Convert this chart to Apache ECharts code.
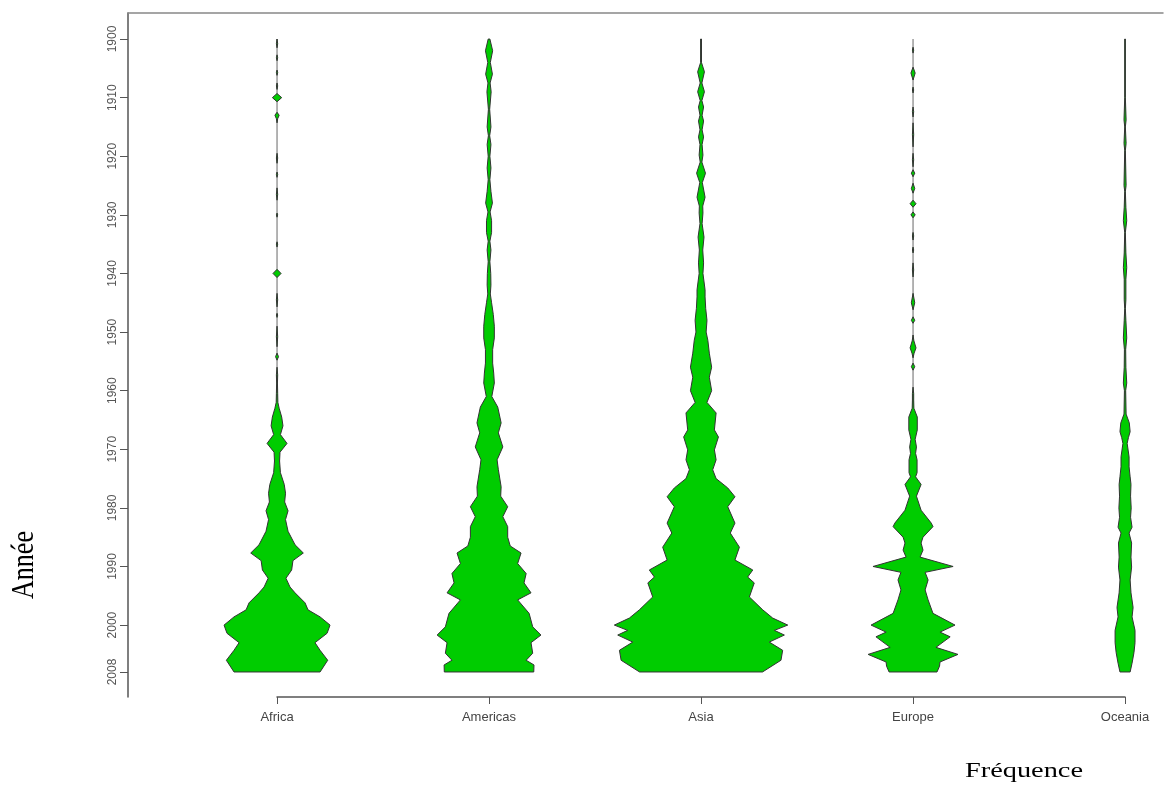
<!DOCTYPE html>
<html>
<head>
<meta charset="utf-8">
<script src="https://cdn.jsdelivr.net/npm/echarts@6/dist/echarts.min.js"></script>
<style>
  html, body { margin: 0; padding: 0; background: #fff; }
  #main { width: 1165px; height: 788px; }
</style>
</head>
<body>
<div id="main"></div>
<script>
// categories and tick labels
let continents = ['Africa', 'Americas', 'Asia', 'Europe', 'Oceania'];
let tickYears = [1900, 1910, 1920, 1930, 1940, 1950, 1960, 1970, 1980, 1990, 2000, 2008];

// [year, half width of the bean, in % of one category step]
let africa = [[1900,0],[1900.8,0.3],[1901.5,0],[1902.7,0],[1903.2,0.3],[1903.7,0],[1905.3,0],[1905.7,0.3],[1906.2,0],
  [1907.5,0],[1908,0.3],[1908.6,0],[1909.3,0],[1910,2.2],[1910.7,0],[1912.5,0],[1913,1.0],[1913.6,0.3],[1914.3,0],
  [1919.5,0],[1920.3,0.3],[1921.2,0],[1922.7,0],[1923.1,0.3],[1923.6,0],[1925.4,0],[1926.5,0.3],[1927.5,0],
  [1929.7,0],[1930,0.3],[1930.4,0],[1934.6,0],[1935,0.3],[1935.5,0],[1939.3,0],[1940,1.9],[1940.7,0],
  [1943.4,0],[1944.5,0.3],[1945.7,0],[1946.8,0],[1947.1,0.3],[1947.5,0],[1949,0],[1950.8,0.3],[1952.5,0],
  [1953.6,0],[1954.2,0.7],[1954.8,0],[1956,0],[1957.3,0.3],[1958.7,0.2],[1960.5,0.3],[1962,0.4],[1963,1.0],
  [1964.5,2.2],[1966,2.8],[1967.5,1.6],[1969,4.7],[1970.5,1.4],[1972,1.2],[1974,1.6],[1976,3.4],[1977.5,4.0],
  [1979,3.6],[1980.5,5.2],[1982,4.0],[1984,5.2],[1986.3,8.5],[1987.7,12.4],[1989,7.5],[1990.6,6.9],[1992,4.2],
  [1993.5,6.1],[1994.5,8.5],[1996.2,13.2],[1997.4,14.6],[1998.6,20.3],[2000,25],[2001.4,23.6],[2003,17.9],
  [2004.3,20.3],[2006,23.9],[2008,20.3]];

let americas = [[1900,0.4],[1902,1.7],[1904,0.6],[1906,1.6],[1907.5,0.5],[1909,1.0],[1912,0.3],[1915,0.9],[1916.5,0.3],
  [1918,0.9],[1920,0.4],[1922,0.9],[1924,0.4],[1926,0.9],[1928,1.6],[1929.5,0.5],[1931,1.2],[1933,1.2],[1934.5,0.4],
  [1936,0.9],[1938,0.4],[1940,0.8],[1942,0.9],[1943.5,0.6],[1945,1.2],[1947,2.0],[1949,2.5],[1951,2.5],[1953,1.7],
  [1955.3,1.7],[1957,2.2],[1958.7,2.5],[1961,1.3],[1962.8,4.1],[1965.5,5.7],[1967.2,4.4],[1969.6,6.5],[1971.8,3.8],
  [1973.5,4.4],[1976.4,5.7],[1978,5.5],[1979.8,8.8],[1981.5,6.5],[1983.2,8.8],[1985,8.8],[1986.5,10],[1987.7,15.1],
  [1989.5,13.5],[1991.2,17.5],[1992.8,16.5],[1994.5,19.8],[1995.7,13.5],[1998,18.9],[2000.3,20.6],[2001.7,24.5],
  [2003,19.8],[2004.8,20.6],[2006,17.5],[2006.8,21.2],[2008,21.1]];

let asia = [[1900,0.2],[1904,0.2],[1905.6,1.6],[1907.5,0.4],[1909,1.6],[1910.5,0.4],[1911.6,1.2],[1913,0.5],[1914,1.2],
  [1915.5,0.5],[1916.7,1.2],[1918,0.5],[1919.8,0.9],[1921,0.4],[1922.9,2.1],[1924.5,0.6],[1927,1.9],[1928.5,0.8],
  [1929.7,0.9],[1931.5,0.5],[1933.8,1.4],[1936,0.8],[1938.2,1.2],[1940,0.9],[1942.8,1.9],[1944,1.9],[1946,2.2],
  [1948,2.8],[1950,2.4],[1951.4,3.2],[1953.6,3.9],[1956,5.0],[1957.7,3.9],[1960,5.0],[1962,2.8],[1963.8,7.1],
  [1966.7,6.3],[1967.9,8.2],[1970.1,6.3],[1971.8,7.1],[1973.5,5.5],[1975,7.1],[1976.6,12.6],[1978.1,16],[1979.8,12.6],
  [1982.6,16],[1984.3,13.8],[1986.7,18.1],[1988.9,16],[1990.6,24.4],[1991.8,22],[1992.8,25.1],[1995.2,22.8],
  [1997.4,29.1],[1998.8,33.8],[2000,40.9],[2000.9,34.6],[2001.7,39.3],[2002.9,32.2],[2004.3,38.5],[2006,37.7],[2008,29]];

let europe = [[1900,0],[1901.4,0],[1901.9,0.3],[1902.4,0],[1904.8,0],[1905.8,1.0],[1907,0],[1908.2,0],[1908.7,0.3],
  [1909.2,0],[1911.6,0],[1912.4,0.3],[1913.3,0],[1914.3,0],[1916.3,0.3],[1918.4,0],[1919.5,0],[1920.6,0.3],[1921.8,0],
  [1922.3,0],[1922.9,0.8],[1923.5,0],[1924.6,0],[1925.5,0.8],[1926.3,0],[1927.5,0],[1928.1,1.4],[1928.7,0],[1929.5,0],
  [1930,1.0],[1930.5,0],[1933,0],[1933.6,0.3],[1934.3,0],[1935.5,0],[1936,0.3],[1936.5,0],[1938.2,0],[1939.4,0.3],
  [1940.6,0],[1943.4,0],[1945,0.8],[1946.2,0],[1947.4,0],[1948,0.8],[1948.5,0],[1950.5,0],[1951.5,0.4],[1952.7,1.4],
  [1953.6,0.5],[1954.4,0],[1955.3,0],[1955.9,0.8],[1956.5,0],[1959.4,0],[1960.5,0.3],[1961.6,0.3],[1963,0.4],
  [1964.5,2.0],[1966.7,2.0],[1968.3,1.0],[1969.6,1.6],[1970.7,1.2],[1971.8,1.9],[1974,1.9],[1974.7,1.2],[1976,3.8],
  [1978,1.6],[1980.4,3.8],[1982.6,8.6],[1983.2,9.4],[1985,4.7],[1986,3.8],[1987.2,4.7],[1988.4,3.3],[1990,18.9],
  [1991,5.7],[1992.3,7.1],[1994,5.7],[1995.7,7.1],[1998,9.4],[2000,19.8],[2001.2,12.7],[2002,17.5],[2003.8,10.8],
  [2005,21.2],[2006.3,12.7],[2007,12.5],[2008,11.3]];

let oceania = [[1900,0.15],[1910,0.15],[1913.8,0.5],[1915,0.15],[1917.8,0.5],[1919,0.15],[1925,0.5],[1926,0.15],
  [1928.7,0.4],[1931,0.8],[1933,0.15],[1936.5,0.4],[1939,0.8],[1941,0.4],[1944.5,0.4],[1946,0.15],[1948,0.4],
  [1951,0.8],[1953,0.3],[1956,0.4],[1958.7,0.8],[1960,0.3],[1964,0.5],[1965.5,2.0],[1967,2.4],[1968,1.6],[1969,1.0],
  [1971.3,1.9],[1973,1.9],[1974.7,2.4],[1976,2.8],[1978,2.6],[1980,2.9],[1981.6,2.6],[1983.3,3.3],[1984.3,1.9],
  [1986,3.1],[1988.4,2.8],[1990.1,3.1],[1992.3,2.4],[1994.5,2.8],[1997,3.8],[1998.6,3.3],[2000.9,4.7],[2003,4.7],
  [2004.7,4.2],[2006.5,3.3],[2008,2.4]];

let profiles = [africa, americas, asia, europe, oceania];

let myChart = echarts.init(document.getElementById('main'));

function renderBean(params, api) {
  let c = api.value(0);
  let prof = profiles[params.dataIndex];
  let top = api.coord([c, 1900]);
  let bot = api.coord([c, 2008]);
  let children = [{
    type: 'line',
    shape: { x1: top[0], y1: top[1], x2: bot[0], y2: bot[1] },
    style: { stroke: '#9a9a9a', lineWidth: 1.5 }
  }];
  // cut the profile where width is 0 so the bare centre line shows
  let runs = [], cur = null;
  for (let k = 0; k < prof.length; k++) {
    let p = prof[k];
    if (p[1] > 0) {
      if (!cur) { cur = []; if (k > 0) cur.push(prof[k - 1]); }
      cur.push(p);
    } else if (cur) {
      cur.push(p); runs.push(cur); cur = null;
    }
  }
  if (cur) runs.push(cur);
  runs.forEach(function (run) {
    let pts = [];
    run.forEach(function (p) { pts.push(api.coord([c + p[1] / 100, p[0]])); });
    for (let m = run.length - 1; m >= 0; m--) {
      pts.push(api.coord([c - run[m][1] / 100, run[m][0]]));
    }
    children.push({
      type: 'polygon',
      shape: { points: pts },
      style: { fill: '#00cc00', stroke: '#333', lineWidth: 1 }
    });
  });
  return { type: 'group', children: children };
}

let option = {
  backgroundColor: '#fff',
  animation: false,
  grid: [
    { left: 128, top: 13, right: 2, bottom: 91 },
    { left: 277, right: 40, top: 696, height: 1 }
  ],
  xAxis: [
    {
      gridIndex: 0, type: 'value', position: 'top',
      min: 0.297, max: 5.179,
      axisLine: { show: true, onZero: false, lineStyle: { color: '#888', width: 1.5 } },
      axisTick: { show: false }, axisLabel: { show: false }, splitLine: { show: false }
    },
    {
      gridIndex: 1, type: 'value', position: 'bottom',
      min: 1, max: 5, interval: 1,
      axisLine: { show: true, onZero: false, lineStyle: { color: '#555', width: 1.5 } },
      axisTick: { show: true, length: 7, lineStyle: { color: '#555' } },
      axisLabel: {
        margin: 14, fontSize: 13, color: '#444', fontFamily: 'Liberation Sans',
        formatter: function (v) { return continents[v - 1] || ''; }
      },
      splitLine: { show: false }
    }
  ],
  yAxis: [
    {
      gridIndex: 0, type: 'value', inverse: true,
      min: 1895.56, max: 2012.27,
      axisLine: { show: true, onZero: false, lineStyle: { color: '#555', width: 1.5 } },
      axisTick: { show: true, length: 8, customValues: tickYears, lineStyle: { color: '#555' } },
      axisLabel: {
        rotate: 90, customValues: tickYears, margin: 9,
        fontSize: 12, color: '#555', fontFamily: 'Liberation Sans',
        formatter: function (v) { return String(v); }
      },
      splitLine: { show: false }
    },
    { gridIndex: 1, type: 'value', show: false }
  ],
  graphic: [
    {
      type: 'text', x: 25, y: 565, rotation: Math.PI / 2, scaleY: 1.2,
      style: { text: 'Année', font: '26px "Liberation Serif"', fill: '#000', align: 'center', verticalAlign: 'middle' }
    },
    {
      type: 'text', x: 1024, y: 771, scaleX: 1.35,
      style: { text: 'Fréquence', font: '21px "Liberation Serif"', fill: '#000', align: 'center', verticalAlign: 'middle' }
    }
  ],
  series: [{
    type: 'custom',
    xAxisIndex: 0, yAxisIndex: 0,
    renderItem: renderBean,
    encode: { x: 0, y: 1 },
    data: [[1, 1900], [2, 1900], [3, 1900], [4, 1900], [5, 1900]],
    silent: true
  }]
};

myChart.setOption(option);
</script>
</body>
</html>
